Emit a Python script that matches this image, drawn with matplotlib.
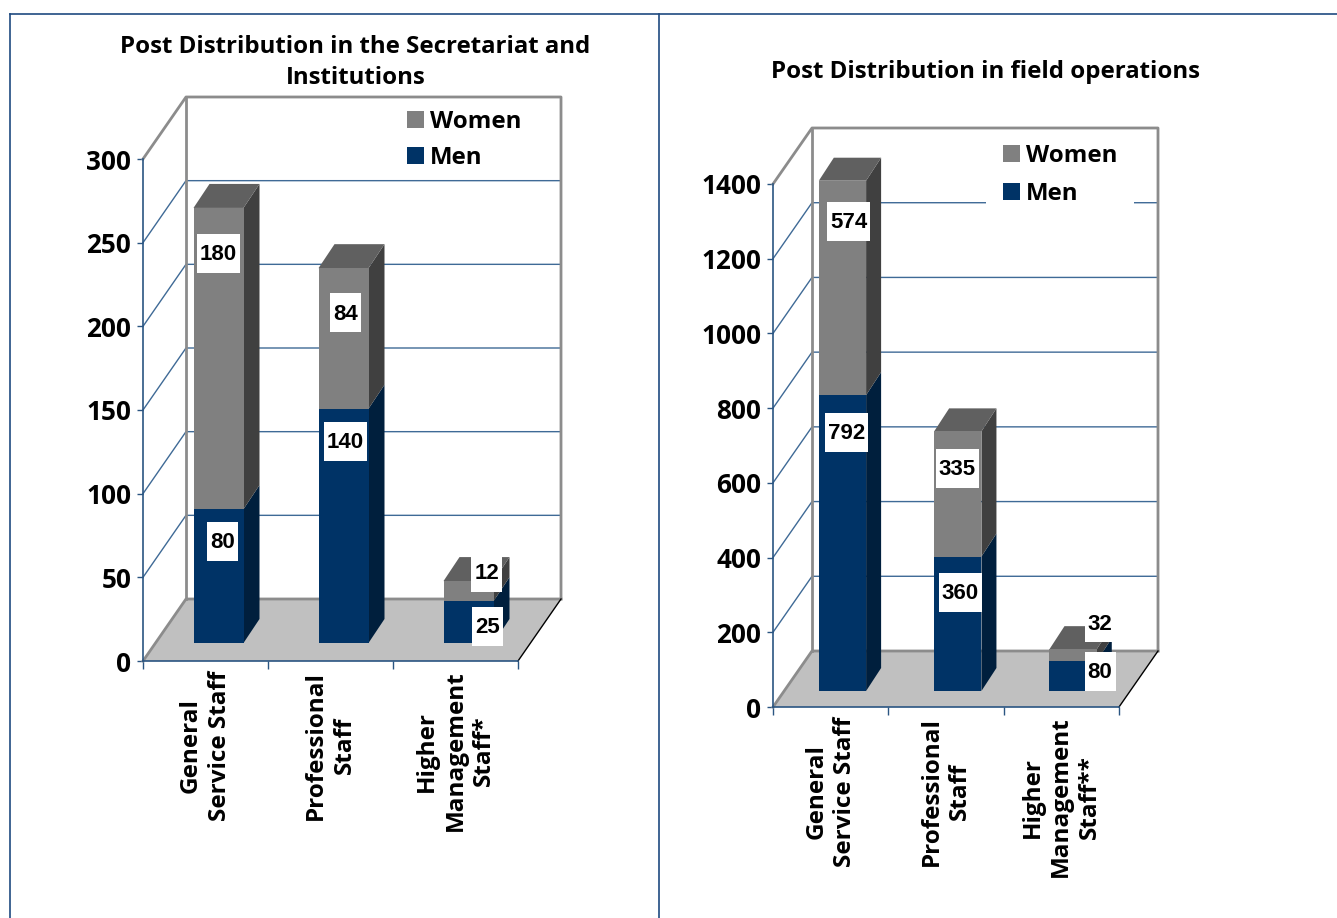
import matplotlib
matplotlib.use("Agg")
import matplotlib.pyplot as plt
from matplotlib.lines import Line2D
from matplotlib.patches import Patch, Polygon, Rectangle
from matplotlib.transforms import Affine2D

W, H = 1337, 918

# chart values
categories_left = ["General\nService Staff", "Professional\nStaff", "Higher\nManagement\nStaff*"]
men_left = [80, 140, 25]
women_left = [180, 84, 12]
yticks_left = [0, 50, 100, 150, 200, 250, 300]

categories_right = ["General\nService Staff", "Professional\nStaff", "Higher\nManagement\nStaff**"]
men_right = [792, 360, 80]
women_right = [574, 335, 32]
yticks_right = [0, 200, 400, 600, 800, 1000, 1200, 1400]

title_left = "Post Distribution in the Secretariat and\nInstitutions"
title_right = "Post Distribution in field operations"

# colours
NAVY = "#003366"
NAVY_SIDE = "#001f3d"
GREY = "#808080"
GREY_SIDE = "#404040"
GREY_TOP = "#606060"
FLOOR = "#c0c0c0"
WALL = "#8c8c8c"
AXIS = "#2a5582"
GRID = "#3f6a96"

TITLE_FONT = "Open Sans"
LABEL_FONT = "Liberation Sans"

fig = plt.figure(figsize=(W / 100, H / 100), dpi=100, facecolor="white")

# pixel coordinates of the screenshot, y going down
px = Affine2D().scale(1 / W, -1 / H).translate(0, 1) + fig.transFigure

for xs, ys in [((10, W), (14, 14)), ((10, 10), (14, H)), ((658.5, 658.5), (14, H))]:
    fig.add_artist(Line2D(xs, ys, transform=px, color="#1f4a80", lw=1.2))


def draw_panel(rect, men, women, cats, yticks, depth, bar_off, bar_depth, bar_width,
               labels, legend_box, legend_inner):
    x0, x1, ybot, ytop = rect
    ymax = yticks[-1]
    ax = fig.add_axes([x0 / W, 1 - ybot / H, (x1 - x0) / W, (ybot - ytop) / H])
    ax.set_xlim(0, 3)
    ax.set_ylim(0, ymax)
    ax.patch.set_alpha(0)
    ux = (x1 - x0) / 3
    uy = (ybot - ytop) / ymax
    ddx, ddy = depth[0] / ux, depth[1] / uy
    bdx, bdy = bar_depth[0] / ux, bar_depth[1] / uy
    shift, lift = bar_off[0] / ux, bar_off[1] / uy

    # back wall and side wall
    for v in yticks[1:-1]:
        ax.plot([0, ddx, 3 + ddx], [v, v + ddy, v + ddy], color=GRID, lw=1, clip_on=False, zorder=1)
    ax.add_patch(Polygon([(0, 0), (ddx, ddy), (3 + ddx, ddy), (3, 0)], fc=FLOOR, ec="none",
                         clip_on=False, zorder=2))
    ax.plot([0, ddx, 3 + ddx, 3 + ddx], [ymax, ymax + ddy, ymax + ddy, ddy], color=WALL, lw=2,
            clip_on=False, zorder=2)
    ax.plot([ddx, ddx], [ymax + ddy, ddy], color=WALL, lw=2, clip_on=False, zorder=2)
    ax.plot([0, ddx, 3 + ddx], [0, ddy, ddy], color=WALL, lw=2, clip_on=False, zorder=2)
    ax.plot([3, 3 + ddx], [0, ddy], color="black", lw=1, clip_on=False, zorder=2)

    # stacked bars, front faces then the side and top faces
    centers = [i + 0.5 + shift for i in range(3)]
    ax.bar(centers, men, bar_width, bottom=lift, color=NAVY, clip_on=False, zorder=4)
    ax.bar(centers, women, bar_width, bottom=[m + lift for m in men], color=GREY, clip_on=False, zorder=4)
    for c, m, w in zip(centers, men, women):
        r = c + bar_width / 2
        l = c - bar_width / 2
        for b, t, col in [(lift, lift + m, NAVY_SIDE), (lift + m, lift + m + w, GREY_SIDE)]:
            ax.add_patch(Polygon([(r, b), (r + bdx, b + bdy), (r + bdx, t + bdy), (r, t)],
                                 fc=col, ec="none", clip_on=False, zorder=3))
        top = lift + m + w
        ax.add_patch(Polygon([(l, top), (l + bdx, top + bdy), (r + bdx, top + bdy), (r, top)],
                             fc=GREY_TOP, ec="none", clip_on=False, zorder=3))

    # axes
    for s in ["top", "right"]:
        ax.spines[s].set_visible(False)
    for s in ["left", "bottom"]:
        ax.spines[s].set_color(AXIS)
        ax.spines[s].set_linewidth(1.2)
        ax.spines[s].set_zorder(3)
    ax.set_yticks(yticks)
    ax.set_yticklabels([str(v) for v in yticks], fontfamily=TITLE_FONT, fontweight="bold", fontsize=18.8)
    ax.tick_params(axis="y", length=4.5, width=1, color=AXIS, pad=4)
    ax.set_xticks([0, 1, 2, 3])
    ax.set_xticklabels([])
    ax.tick_params(axis="x", which="major", length=6, width=1, color=AXIS)
    ax.set_xticks([0.5, 1.5, 2.5], minor=True)
    ax.set_xticklabels(cats, minor=True, rotation=90, ha="center", va="top", ma="center",
                       fontfamily=TITLE_FONT, fontweight="bold", fontsize=17.5, linespacing=1.27)
    ax.tick_params(axis="x", which="minor", length=0, pad=7)

    # legend, its white frame hides the gridlines but stays under the wall lines
    fs = 17.3
    pts = 100 / 72 * fs
    lg = ax.legend(handles=[Patch(fc=GREY, ec="none"), Patch(fc=NAVY, ec="none")],
                   labels=["Women", "Men"], loc="upper left",
                   bbox_to_anchor=legend_box, bbox_transform=px, borderaxespad=0,
                   borderpad=legend_inner[0] / pts, handlelength=17 / pts, handleheight=17 / pts,
                   handletextpad=6 / pts, labelspacing=legend_inner[1] / pts, framealpha=1,
                   frameon=True, fancybox=False, edgecolor="none", facecolor="white",
                   prop={"family": TITLE_FONT, "weight": "bold", "size": fs})
    lg.set_zorder(1.5)

    # data labels sit in white boxes
    for (cx, cy), v in zip(labels, men + women):
        bw = 43 if v >= 100 else 31
        fig.add_artist(Rectangle((cx - bw / 2, cy - 19.5), bw, 39, transform=px, fc="white", ec="none", zorder=5))
        fig.text(cx, cy - 1, str(v), transform=px, ha="center", va="center_baseline", zorder=6,
                 family=LABEL_FONT, weight="bold", size=16)
    return ax


draw_panel((143, 518, 661, 159), men_left, women_left, categories_left, yticks_left,
           (43, 62), (13, 18), (16, 24), 0.4,
           [(222.5, 541.5), (345, 441), (487.5, 626), (218.5, 253.5), (345.5, 312.5), (486.5, 572)],
           (399, 102), (8, 12))
draw_panel((773, 1119, 707, 184), men_right, women_right, categories_right, yticks_right,
           (39, 56), (11.8, 16), (15, 23), 0.41,
           [(846.5, 432), (960, 592), (1100, 671), (848.5, 221.5), (957, 468), (1100, 622.5)],
           (986, 127), (17, 14))

fig.text(355.5, 62.5, title_left, transform=px, ha="center", va="center", family=TITLE_FONT,
         weight="bold", size=17.3, linespacing=1.42)
fig.text(985.5, 72, title_right, transform=px, ha="center", va="center", family=TITLE_FONT,
         weight="bold", size=17.3)

fig.savefig("out.png", dpi=100)
